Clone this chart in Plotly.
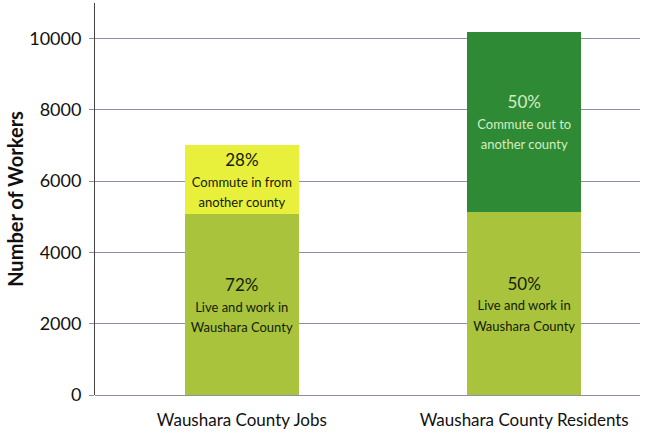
import plotly.graph_objects as go

categories = ["Waushara County Jobs", "Waushara County Residents"]
live_work = [5070, 5140]
commute = [1950, 5060]
live_pct = ["72%", "50%"]
commute_pct = ["28%", "50%"]
live_desc = ["Live and work in<br>Waushara County", "Live and work in<br>Waushara County"]
commute_desc = ["Commute in from<br>another county", "Commute out to<br>another county"]

FONT = "Lato"

def labels(pcts, descs):
    out = []
    for p, d in zip(pcts, descs):
        lines = d.split("<br>")
        body = "<br>".join(f"<span style='font-size:13px'>{ln}</span>" for ln in lines)
        out.append(f"<span style='font-size:17px'>{p}</span><br>{body}")
    return out

fig = go.Figure()
fig.add_trace(go.Bar(
    x=categories, y=live_work, width=0.405,
    marker=dict(color="#a9c43c", line=dict(width=0)),
    text=labels(live_pct, live_desc), textposition="inside",
    insidetextanchor="middle", constraintext="none",
    textfont=dict(family=FONT, size=16, color="#142008"),
    hoverinfo="skip",
))
fig.add_trace(go.Bar(
    x=categories, y=commute, width=0.405,
    marker=dict(color=["#e8f03c", "#2f8a36"], line=dict(width=0)),
    text=labels(commute_pct, commute_desc), textposition="inside",
    insidetextanchor="middle", constraintext="none",
    textfont=dict(family=FONT, size=16, color=["#142008", "#d4eec0"]),
    hoverinfo="skip",
))

fig.update_layout(
    barmode="stack",
    width=649, height=436,
    margin=dict(l=95, r=9, t=3, b=41),
    paper_bgcolor="white", plot_bgcolor="white",
    showlegend=False,
    font=dict(family=FONT, color="#111111"),
    uniformtext=dict(mode=False),
)
fig.update_xaxes(
    range=[-0.52, 1.41],
    showgrid=False,
    showline=False,
    ticks="",
    ticklabelstandoff=13,
    tickfont=dict(family=FONT, size=17, color="#111111"),
)
fig.update_yaxes(
    range=[0, 11000],
    dtick=2000,
    tickformat="d",
    showgrid=True, gridcolor="#8a90aa", gridwidth=1,
    zeroline=True, zerolinecolor="#8a90aa", zerolinewidth=1,
    showline=True, linecolor="#444444", linewidth=1,
    ticks="outside", ticklen=5, tickcolor="#8a90aa",
    ticklabelstandoff=4,
    tickfont=dict(family=FONT, size=18, color="#111111"),
    title=dict(text="<b>Number of Workers</b>", font=dict(family=FONT, size=20, color="#111111"), standoff=0),
)

fig.write_html(
    "out.html",
    config={"displayModeBar": False},
    post_script="document.body.style.margin='0';document.body.style.padding='0';",
)
